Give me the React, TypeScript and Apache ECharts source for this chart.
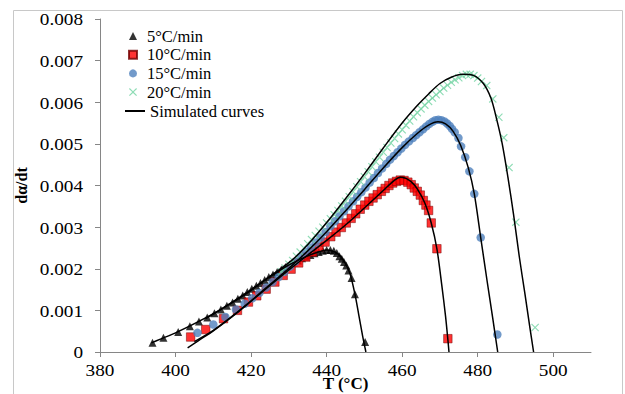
import React, { useEffect, useRef } from "react";
import * as echarts from "echarts";

const xTicks = [380, 400, 420, 440, 460, 480, 500];
const yTicks = [0, 0.001, 0.002, 0.003, 0.004, 0.005, 0.006, 0.007, 0.008];
const yTickLabels = ["0", "0.001", "0.002", "0.003", "0.004", "0.005", "0.006", "0.007", "0.008"];
const seriesNames = ["5°C/min", "10°C/min", "15°C/min", "20°C/min"];
const simName = "Simulated curves";

const rate5 = [[393.9,0.00022],[396.8,0.00034],[400.7,0.00048],[403.8,0.00062],[406.2,0.00073],[408.4,0.00083],[410.3,0.00093],[412.0,0.00102],[413.6,0.00111],[415.1,0.00119],[416.5,0.00128],[417.8,0.00136],[419.0,0.00144],[420.2,0.00152],[421.4,0.00159],[422.5,0.00166],[423.6,0.00173],[424.7,0.0018],[425.8,0.00186],[426.9,0.00192],[428.0,0.00198],[429.1,0.00204],[430.2,0.0021],[431.3,0.00215],[432.4,0.0022],[433.5,0.00225],[434.6,0.00229],[435.7,0.00233],[436.8,0.00237],[437.9,0.0024],[439.0,0.00243],[440.0,0.00245],[441.0,0.00245],[441.9,0.00243],[442.7,0.00238],[443.4,0.0023],[444.0,0.00224],[444.6,0.00216],[445.2,0.00208],[445.8,0.00196],[446.6,0.00178],[447.5,0.00139],[450.2,0.00024]];

const rate10 = [[404.0,0.00036],[408.0,0.00054],[412.7,0.0008],[416.4,0.001],[419.3,0.0012],[421.5,0.00135],[424.0,0.00151],[426.3,0.00168],[428.5,0.00184],[430.6,0.00199],[432.6,0.00214],[434.5,0.00228],[436.3,0.0024],[438.0,0.00252],[439.6,0.00264],[441.1,0.00277],[442.5,0.00288],[443.9,0.00299],[445.2,0.0031],[446.5,0.00321],[447.7,0.00332],[448.9,0.00343],[450.1,0.00353],[451.2,0.00362],[452.3,0.0037],[453.4,0.00378],[454.5,0.00386],[455.5,0.00393],[456.5,0.004],[457.5,0.00406],[458.5,0.0041],[459.5,0.00413],[460.5,0.00412],[461.5,0.00408],[462.4,0.00402],[463.2,0.00394],[464.0,0.00386],[464.8,0.00377],[465.6,0.00364],[466.3,0.00353],[467.0,0.0034],[467.7,0.0031],[469.2,0.00248],[472.1,0.00032]];

const rate15 = [[405.8,0.00046],[410.0,0.00066],[413.2,0.00084],[416.0,0.00102],[418.3,0.00116],[420.3,0.00129],[422.2,0.00142],[424.0,0.00155],[425.7,0.00168],[427.3,0.0018],[428.8,0.00192],[430.3,0.00205],[431.7,0.00217],[433.1,0.00229],[434.5,0.0024],[435.8,0.00251],[437.1,0.00263],[438.4,0.00275],[439.7,0.00288],[441.0,0.00302],[442.2,0.00314],[443.4,0.00326],[444.6,0.00338],[445.8,0.0035],[447.0,0.00362],[448.1,0.00373],[449.2,0.00384],[450.3,0.00395],[451.4,0.00407],[452.5,0.00418],[453.6,0.0043],[454.7,0.00441],[455.8,0.00452],[456.8,0.00462],[457.8,0.00471],[458.8,0.0048],[459.8,0.00489],[460.8,0.00498],[461.8,0.00506],[462.8,0.00514],[463.7,0.00521],[464.6,0.00528],[465.5,0.00535],[466.4,0.00542],[467.2,0.00548],[468.0,0.00553],[468.8,0.00557],[469.6,0.00558],[470.4,0.00557],[471.2,0.00554],[471.9,0.00549],[472.6,0.00543],[473.2,0.00536],[473.9,0.00528],[474.9,0.00514],[475.6,0.00494],[476.7,0.00468],[477.8,0.00434],[479.1,0.0038],[480.8,0.00275],[485.2,0.00042]];

const rate20 = [[428,0.00193],[429,0.00202],[430,0.00211],[431,0.0022],[432,0.0023],[433,0.0024],[434,0.0025],[435,0.0026],[436,0.0027],[437,0.0028],[438,0.0029],[439,0.003],[440,0.0031],[441,0.0032],[442,0.0033],[443,0.0034],[444,0.00351],[445,0.00362],[446,0.00373],[447,0.00385],[448,0.00397],[449,0.00409],[450,0.00421],[451,0.00433],[452,0.00445],[453,0.00457],[454,0.00468],[455,0.0048],[456,0.00491],[457,0.00502],[458,0.00513],[459,0.00524],[460,0.00534],[461,0.00545],[462,0.00555],[463,0.00565],[464,0.00575],[465,0.00584],[466,0.00593],[467,0.00602],[468,0.0061],[469,0.00618],[470,0.00626],[471,0.00634],[472,0.00641],[473,0.00648],[474,0.00654],[475,0.00659],[476,0.00664],[477,0.00667],[478,0.00667],[479,0.00664],[480,0.00658],[481,0.0065],[482.4,0.0064],[484.0,0.00608],[485.6,0.00564],[486.9,0.00515],[488.3,0.00443],[490.1,0.00312],[495.2,0.00059]];

const sim5 = [[393.6,0.00022],[396,0.00031],[400,0.00046],[405,0.00068],[410,0.00092],[415,0.0012],[420,0.0015],[425,0.00181],[430,0.00209],[435,0.00231],[438,0.00241],[440,0.00245],[442,0.00241],[443.5,0.00232],[445,0.00212],[446.2,0.00188],[447.5,0.00139],[448.5,0.0009],[449.5,0.0004],[450.4,0]];
const sim10 = [[403.2,0.0001],[406,0.00027],[410,0.00051],[415,0.00085],[420,0.00122],[425,0.0016],[430,0.00197],[435,0.00233],[440,0.00268],[445,0.00305],[450,0.00346],[455,0.00388],[458,0.00413],[459.5,0.0042],[461,0.00417],[462.5,0.00408],[464,0.00392],[466,0.00358],[467.7,0.0031],[469.2,0.00248],[470.5,0.0016],[471.5,0.00085],[472.1,0.0003],[472.4,0]];
const sim15 = [[405,0.00025],[410,0.00052],[415,0.00086],[420,0.00123],[425,0.00162],[430,0.00201],[435,0.00243],[440,0.00289],[445,0.00339],[450,0.0039],[455,0.00442],[460,0.00491],[464,0.00525],[467,0.00545],[469.5,0.00553],[471.5,0.00548],[473.5,0.0053],[475.5,0.00496],[477.5,0.00443],[479.1,0.0038],[480.8,0.00275],[482.5,0.0017],[484,0.0008],[485.3,0]];
const sim20 = [[408,0.0008],[412,0.00102],[416,0.00124],[420,0.00148],[425,0.00182],[431,0.00222],[436,0.00268],[441,0.00322],[445,0.00368],[450,0.00428],[455,0.0049],[460,0.0055],[464,0.00592],[467,0.0062],[470,0.00645],[473,0.0066],[476,0.00667],[479,0.00664],[481.5,0.00645],[483.5,0.0061],[485,0.0056],[486.5,0.005],[488,0.0042],[489.5,0.0033],[491,0.0023],[492.5,0.0014],[493.8,0.0006],[494.8,0]];

const X_PATH = "path://M0,1 L1,0 L5,4 L9,0 L10,1 L6,5 L10,9 L9,10 L5,6 L1,10 L0,9 L4,5 Z";
const FONT = "Liberation Serif";

export default function App() {
  const ref = useRef<HTMLDivElement>(null);
  useEffect(() => {
    document.body.style.margin = "0";
    const chart = echarts.init(ref.current!, undefined, { renderer: "svg" });
    const simLine = (data: number[][]) => ({
      name: simName,
      type: "line",
      data,
      showSymbol: false,
      symbol: "none",
      smooth: 0.3,
      lineStyle: { color: "#000", width: 1.5 },
      itemStyle: { color: "#000" },
      z: 5,
    });
    const legendText = { fontFamily: FONT, fontSize: 16.5, color: "#000", lineHeight: 18 };
    const border = {
      type: "rect",
      shape: { x: 13.5, y: 10.5, width: 609, height: 420 },
      style: { fill: "none", stroke: "#c8c8c8", lineWidth: 1 },
      silent: true,
    };
    chart.setOption({
      animation: false,
      backgroundColor: "#fff",
      textStyle: { fontFamily: FONT },
      graphic: [border],
      grid: { left: 100, top: 19, width: 491, height: 333, containLabel: false, outerBoundsMode: "none" },
      legend: [
        {
          orient: "vertical",
          left: 123,
          top: 22,
          itemWidth: 8,
          itemHeight: 8,
          itemGap: 0.7,
          textStyle: { ...legendText, padding: [0, 0, 0, 5] },
          data: [
            { name: seriesNames[0], icon: "triangle" },
            { name: seriesNames[1], icon: "rect" },
            { name: seriesNames[2], icon: "circle" },
            { name: seriesNames[3], icon: X_PATH },
          ],
        },
        {
          orient: "vertical",
          left: 119,
          top: 97,
          itemWidth: 20,
          itemHeight: 2,
          textStyle: legendText,
          data: [{ name: simName }],
        },
      ],
      xAxis: {
        type: "value",
        min: 380,
        max: 510,
        interval: 20,
        name: "T (°C)",
        nameLocation: "middle",
        nameGap: 23,
        nameMoveOverlap: false,
        nameTextStyle: { fontFamily: FONT, fontSize: 17, fontWeight: "bold", color: "#000" },
        axisLine: { lineStyle: { color: "#868686", width: 1 } },
        axisTick: { show: true, length: 5, customValues: xTicks, lineStyle: { color: "#868686" } },
        axisLabel: { show: false },
        splitLine: { show: false },
      },
      yAxis: {
        type: "value",
        min: 0,
        max: 0.008,
        interval: 0.001,
        name: "dα/dt",
        nameLocation: "middle",
        nameRotate: 90,
        nameGap: 71,
        nameMoveOverlap: false,
        nameTextStyle: { fontFamily: FONT, fontSize: 16, fontWeight: "bold", color: "#000" },
        axisLine: { show: true, lineStyle: { color: "#868686", width: 1 } },
        axisTick: { show: true, length: 5, lineStyle: { color: "#868686" } },
        axisLabel: { show: false },
        splitLine: { show: false },
      },
      series: [
        {
          name: seriesNames[0],
          type: "scatter",
          data: rate5,
          symbol: "triangle",
          symbolSize: 8,
          itemStyle: { color: "#000" },
        },
        {
          name: seriesNames[1],
          type: "scatter",
          data: rate10,
          symbol: "rect",
          symbolSize: 8.5,
          itemStyle: { color: "#ff0000", borderColor: "#700000", borderWidth: 0.6 },
        },
        {
          name: seriesNames[2],
          type: "scatter",
          data: rate15,
          symbol: "circle",
          symbolSize: 8.5,
          itemStyle: { color: "#4f81bd" },
        },
        {
          name: seriesNames[3],
          type: "scatter",
          data: rate20,
          symbol: X_PATH,
          symbolSize: 8,
          itemStyle: { color: "#72d3a2" },
        },
        simLine(sim5),
        simLine(sim10),
        simLine(sim15),
        simLine(sim20),
      ],
    });

    const labelFont = `16px ${FONT}`;
    const xLabelEls = xTicks.map((v) => {
      const p = chart.convertToPixel({ xAxisIndex: 0, yAxisIndex: 0 }, [v, 0]) as number[];
      return {
        type: "text",
        x: p[0],
        y: p[1] + 19,
        scaleX: 1.2,
        silent: true,
        style: { text: String(v), font: labelFont, fill: "#000", align: "center", verticalAlign: "middle" },
      };
    });
    const yLabelEls = yTicks.map((v, i) => {
      const p = chart.convertToPixel({ xAxisIndex: 0, yAxisIndex: 0 }, [380, v]) as number[];
      return {
        type: "text",
        x: p[0] - 17,
        y: p[1] + 1,
        scaleX: 1.2,
        silent: true,
        style: { text: yTickLabels[i], font: labelFont, fill: "#000", align: "right", verticalAlign: "middle" },
      };
    });
    chart.setOption({ graphic: [border, ...xLabelEls, ...yLabelEls] });
    return () => chart.dispose();
  }, []);
  return <div ref={ref} style={{ width: 625, height: 394 }} />;
}
